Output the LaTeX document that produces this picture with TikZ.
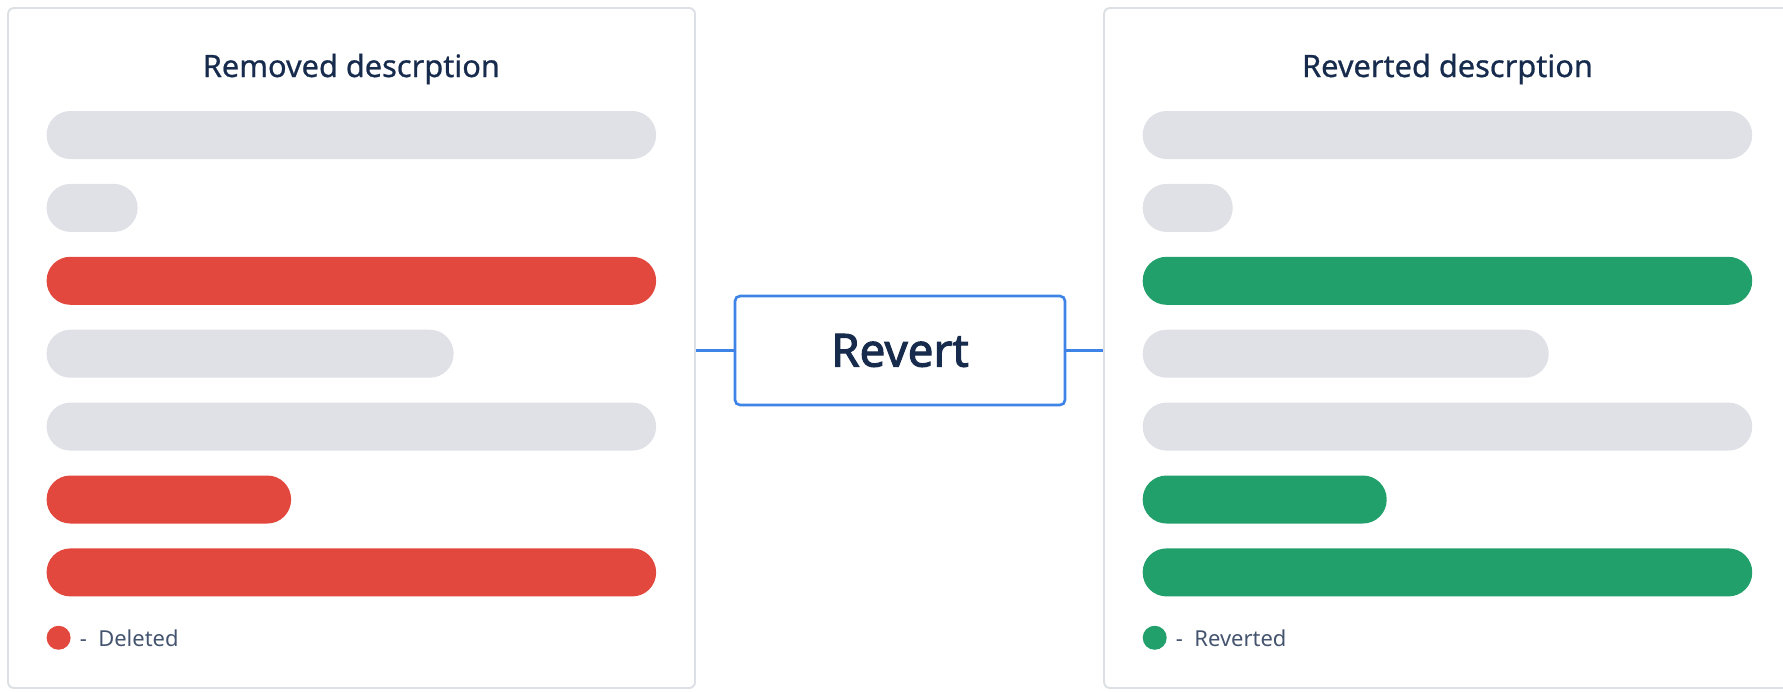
\documentclass[tikz,border=0pt]{standalone}
\usepackage{fontspec}
\setmainfont{Noto Sans}
\newfontfamily\medfont{Noto Sans}[FakeBold=0.7]
\newfontfamily\heavyfont{Noto Sans}[FakeBold=2.2]
\usetikzlibrary{
  positioning,  % Function "of" (e.g. [right=of x])
}
\definecolor{panelgray}{HTML}{DCDFE4}
\definecolor{bargray}{HTML}{DFE1E6}
\definecolor{delred}{HTML}{E2483D}
\definecolor{revgreen}{HTML}{22A06B}
\definecolor{titleblue}{HTML}{172B4D}
\definecolor{legendgray}{HTML}{44546F}
\definecolor{linkblue}{HTML}{3D84E6}
\def\mybarh{0.96cm}
\def\mygap{0.498cm}
\def\myfull{12.19cm}
\tikzset{
  panel/.style={
    draw=panelgray,
    line width=1.1pt,
    rounded corners=1.2mm,
    minimum width=13.74cm,
    minimum height=13.6cm,
    inner sep=0pt
  },
  bar/.style={
    rounded corners=0.475cm,
    minimum height=\mybarh,
    inner sep=0pt,
    outer sep=0pt
  },
  gray bar/.style={bar,fill=bargray},
  red bar/.style={bar,fill=delred},
  green bar/.style={bar,fill=revgreen},
  title/.style={
    font=\medfont\fontsize{17.5pt}{20pt}\selectfont,
    text=titleblue,
    inner sep=0pt
  },
  dot/.style={
    circle,
    minimum size=0.48cm,
    inner sep=0pt
  },
  legend/.style={
    font=\fontsize{12.5pt}{15pt}\selectfont,
    text=legendgray,
    inner sep=0pt
  },
  action/.style={
    draw=linkblue,
    line width=1.5pt,
    rounded corners=1mm,
    minimum width=6.6cm,
    minimum height=2.18cm,
    font=\heavyfont\fontsize{26pt}{30pt}\selectfont,
    text=titleblue
  },
  link/.style={
    draw=linkblue,
    line width=1.6pt
  }
}
\begin{document}
\begin{tikzpicture}
\useasboundingbox (0,0) rectangle (35.66,-13.82);
% panels
\node[panel] (lpanel) at (7.03,-6.96)  {};
\node[panel] (rpanel) at (28.95,-6.96) {};
% left: removed
\node[gray bar,minimum width=\myfull,anchor=north west] (lb1) at (0.932,-2.22) {};
\node[gray bar,minimum width=1.82cm]  (lb2) [below right=\mygap and 0cm of lb1.south west] {};
\node[red bar,minimum width=\myfull]  (lb3) [below right=\mygap and 0cm of lb2.south west] {};
\node[gray bar,minimum width=8.14cm]  (lb4) [below right=\mygap and 0cm of lb3.south west] {};
\node[gray bar,minimum width=\myfull] (lb5) [below right=\mygap and 0cm of lb4.south west] {};
\node[red bar,minimum width=4.89cm]   (lb6) [below right=\mygap and 0cm of lb5.south west] {};
\node[red bar,minimum width=\myfull]  (lb7) [below right=\mygap and 0cm of lb6.south west] {};
\node[title] (ltitle) [above=0.68cm of lb1.north,anchor=base] {Removed descrption};
\node[dot,fill=delred] (ldot) [below=0.58cm of lb7.south west,xshift=0.24cm] {};
\node[legend] (ltext) [right=0.17cm of ldot] {-~ Deleted};
% right: reverted
\node[gray bar,minimum width=\myfull,anchor=north west] (rb1) at (22.854,-2.22) {};
\node[gray bar,minimum width=1.8cm]    (rb2) [below right=\mygap and 0cm of rb1.south west] {};
\node[green bar,minimum width=\myfull] (rb3) [below right=\mygap and 0cm of rb2.south west] {};
\node[gray bar,minimum width=8.12cm]   (rb4) [below right=\mygap and 0cm of rb3.south west] {};
\node[gray bar,minimum width=\myfull]  (rb5) [below right=\mygap and 0cm of rb4.south west] {};
\node[green bar,minimum width=4.88cm]  (rb6) [below right=\mygap and 0cm of rb5.south west] {};
\node[green bar,minimum width=\myfull] (rb7) [below right=\mygap and 0cm of rb6.south west] {};
\node[title] (rtitle) [above=0.68cm of rb1.north,anchor=base] {Reverted descrption};
\node[dot,fill=revgreen] (rdot) [below=0.58cm of rb7.south west,xshift=0.24cm] {};
\node[legend] (rtext) [right=0.17cm of rdot] {-~ Reverted};
% action
\node[action] (revert) at (18.0,-7.01) {Revert};
\draw[link] (revert.west) -- (revert.west -| lpanel.east);
\draw[link] (revert.east) -- (revert.east -| rpanel.west);
\end{tikzpicture}
\end{document}
